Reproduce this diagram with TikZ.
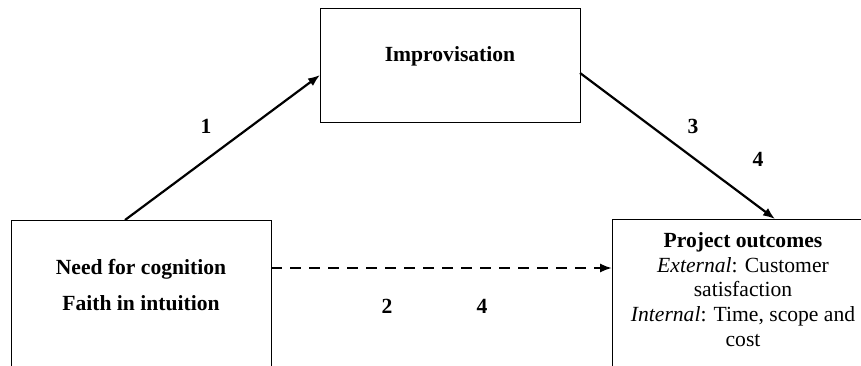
\documentclass[tikz,border=0pt]{standalone}
\usepackage{fontspec}
\setmainfont{Liberation Serif}
\usetikzlibrary{arrows.meta}
\begin{document}
\begin{tikzpicture}[x=0.5pt,y=-0.5pt,inner sep=0pt,
        every node/.style={font=\fontsize{10.8}{12.4}\selectfont},
        box/.style={draw,line width=0.65pt,rectangle,anchor=north west},
        num/.style={font=\fontsize{10.8}{12.4}\selectfont\bfseries},
        arr/.style={line width=1.1pt,-{Latex[length=6pt,width=4.6pt]}}]
        \useasboundingbox (0,0) rectangle (861,365);
        \clip (0,0) rectangle (861,365);
        % \draw[help lines,step=50] (0,0) grid (861,365);
        \node[box,minimum width=130pt,minimum height=110pt] (need) at (11,220) {};
        \node[box,minimum width=130pt,minimum height=57pt] (impro) at (320,8) {};
        \node[box,minimum width=150pt,minimum height=110pt] (outc) at (612,219) {};
        \node[font=\fontsize{10.8}{12.4}\selectfont\bfseries,align=center,anchor=north] (needtxt) at (141,259)
            {Need for cognition\\[5.6pt]Faith in intuition};
        \node[font=\fontsize{10.8}{12.4}\selectfont\bfseries,anchor=north] (imprtxt) at (450,46) {Improvisation};
        \node[align=center,anchor=north] (outctxt) at (743,232)
            {\textbf{Project outcomes}\\\textit{External}: Customer\\satisfaction\\\textit{Internal}: Time, scope and\\cost};
        \coordinate (s1) at (125,220);
        \coordinate (e1) at (320,75);
        \coordinate (s3) at (580,73);
        \coordinate (e3) at (775,219);
        \coordinate (s2) at (271,268);
        \coordinate (e2) at (612,268);
        \draw[arr] (s1) -- (e1);
        \draw[arr] (s3) -- (e3);
        \draw[arr,dash pattern=on 5.5pt off 4pt] (s2) -- (e2);
        \node[num] (n1) at (206,126) {1};
        \node[num] (n3) at (693,126) {3};
        \node[num] (n4a) at (758,159) {4};
        \node[num] (n2) at (387,306) {2};
        \node[num] (n4b) at (482,306) {4};
\end{tikzpicture}
\end{document}
